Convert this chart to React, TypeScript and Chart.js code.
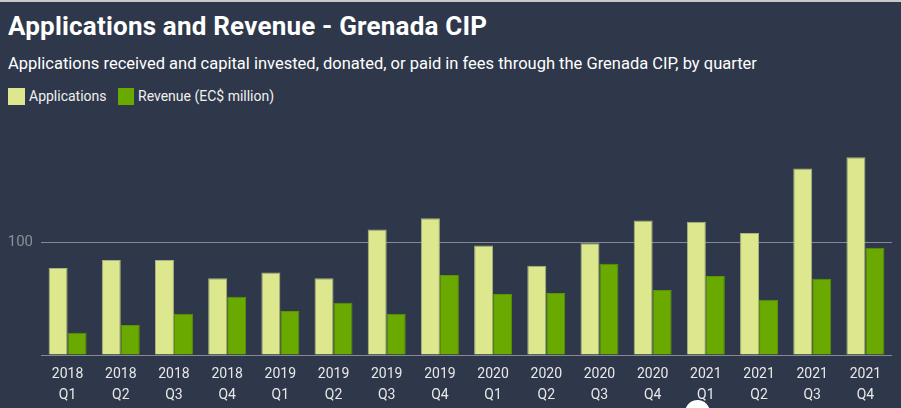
import React, { useEffect, useRef } from "react";
import { Chart, registerables } from "chart.js";

Chart.register(...registerables);

const quarters = ["Q1", "Q2", "Q3", "Q4"];
const years = ["2018", "2019", "2020", "2021"];
const categories: string[][] = years.flatMap((y) => quarters.map((q) => [y, q]));

const applications = [77, 84, 84, 68, 73, 68, 111, 121, 97, 79, 99, 119, 118, 108, 165, 175];
const revenue = [19.7, 26.5, 36.5, 51.6, 38.9, 46.3, 36.5, 70.8, 54, 54.9, 80.8, 57.5, 69.9, 48.9, 67.5, 95];

const yTicks = [0, 100];

const BG = "#2e384a";
const APP_COLOR = "#dce78e";
const APP_BORDER = "#a8b47c";
const REV_COLOR = "#6aaa00";
const REV_BORDER = "#5b9400";
const GRID = "#858a92";

export default function App() {
  const canvasRef = useRef<HTMLCanvasElement | null>(null);

  useEffect(() => {
    document.body.style.margin = "0";
    const ctx = canvasRef.current;
    if (!ctx) return;
    const chart = new Chart(ctx, {
      type: "bar",
      data: {
        labels: categories,
        datasets: [
          {
            label: "Applications",
            data: applications,
            backgroundColor: APP_COLOR,
            borderColor: APP_BORDER,
            borderWidth: 1,
            categoryPercentage: 0.714,
            barPercentage: 1,
          },
          {
            label: "Revenue (EC$ million)",
            data: revenue,
            backgroundColor: REV_COLOR,
            borderColor: REV_BORDER,
            borderWidth: 1,
            categoryPercentage: 0.714,
            barPercentage: 1,
          },
        ],
      },
      options: {
        animation: false,
        responsive: false,
        maintainAspectRatio: false,
        layout: { padding: { top: 19, right: 9, left: 0, bottom: 0 } },
        plugins: {
          legend: { display: false },
          title: { display: false },
          tooltip: { enabled: false },
        },
        scales: {
          x: {
            grid: { display: false, drawTicks: false },
            border: { display: false },
            ticks: {
              color: "#e8e8e8",
              font: { family: "Roboto", size: 14, lineHeight: 1.5 },
              padding: 9,
              maxRotation: 0,
              autoSkip: false,
            },
            afterFit: (s: any) => {
              s.height = 53;
            },
          },
          y: {
            min: 0,
            max: 200,
            afterBuildTicks: (s: any) => {
              s.ticks = yTicks.map((v) => ({ value: v }));
            },
            grid: { color: GRID, lineWidth: 1, drawTicks: false },
            border: { display: false },
            ticks: {
              color: "#8a9099",
              font: { family: "Roboto", size: 15 },
              padding: 8,
              callback: (v: any) => (Number(v) === 0 ? "" : String(v)),
            },
            afterFit: (s: any) => {
              s.width = 41;
            },
          },
        },
      },
    });
    return () => chart.destroy();
  }, []);

  const textBase: React.CSSProperties = {
    position: "absolute",
    fontFamily: "Roboto, sans-serif",
    color: "#ffffff",
    whiteSpace: "nowrap",
    margin: 0,
  };

  return (
    <div
      style={{
        position: "relative",
        width: 901,
        height: 408,
        background: BG,
        overflow: "hidden",
        boxSizing: "border-box",
        borderTop: "2px solid #c9c9c9",
      }}
    >
      <div
        style={{
          ...textBase,
          left: 8,
          top: 10,
          fontSize: 26,
          lineHeight: "28px",
          fontWeight: 700,
          letterSpacing: "0.2px",
        }}
      >
        Applications and Revenue - Grenada CIP
      </div>
      <div style={{ ...textBase, left: 8, top: 52, fontSize: 16.5, lineHeight: "20px" }}>
        Applications received and capital invested, donated, or paid in fees through the Grenada CIP, by quarter
      </div>
      <div style={{ position: "absolute", left: 8, top: 86, width: 17, height: 17, background: APP_COLOR }} />
      <div style={{ ...textBase, left: 29, top: 85, fontSize: 14, lineHeight: "18px", color: "#f0f0f0" }}>
        Applications
      </div>
      <div style={{ position: "absolute", left: 118, top: 86, width: 16, height: 17, background: REV_COLOR }} />
      <div style={{ ...textBase, left: 138, top: 85, fontSize: 14, lineHeight: "18px", color: "#f0f0f0" }}>
        Revenue (EC$ million)
      </div>
      <canvas
        ref={canvasRef}
        width={901}
        height={298}
        style={{ position: "absolute", left: 0, top: 108, width: 901, height: 298 }}
      />
      <div
        style={{
          position: "absolute",
          left: 685,
          top: 398,
          width: 25,
          height: 25,
          borderRadius: "50%",
          background: "#ffffff",
        }}
      />
    </div>
  );
}
